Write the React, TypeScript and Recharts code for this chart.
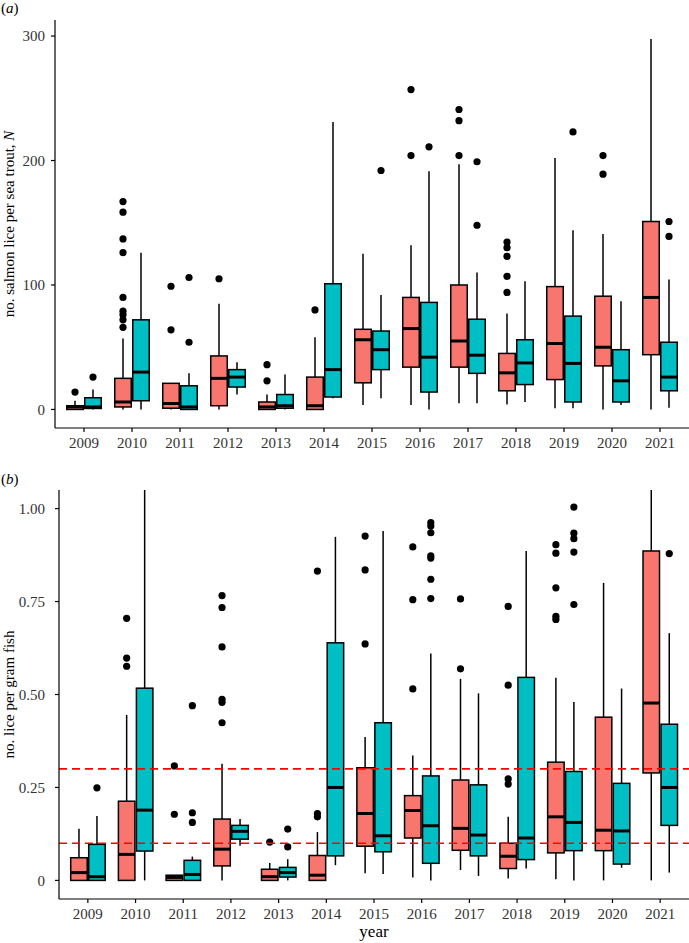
import React from 'react';
import { ComposedChart, Bar, XAxis, YAxis, ReferenceLine, Label } from 'recharts';

const RED = '#F8766D';
const TEAL = '#00BFC4';
const FONT = 'Liberation Serif';

const years = ['2009', '2010', '2011', '2012', '2013', '2014', '2015', '2016', '2017', '2018', '2019', '2020', '2021'];

// box stats per year: [min, q1, median, q3, max]
const troutRed = [
  [0, 0, 2, 3, 7], [0, 2, 6, 25, 57], [0, 1, 4.8, 21, 21], [0, 3, 25, 43, 85], [0, 0, 2, 6, 12],
  [0, 0, 3, 26, 58], [3.5, 21.4, 56, 64.4, 125], [3.5, 34, 65, 90, 132], [5, 34, 55, 100, 197],
  [4, 15, 29.4, 45, 77], [1, 24, 53, 98.7, 202], [0, 35, 50, 91, 141], [0, 44, 90, 151, 297.6],
];
const troutTeal = [
  [0, 0.8, 2, 9.4, 16], [0, 7, 30, 72, 126], [0, 0, 2, 19, 29], [12, 18, 26, 32, 38], [0, 1, 3, 12, 28],
  [9, 10, 32, 101, 231], [9, 32, 48, 63, 92], [0, 14, 42, 86, 191.4], [5, 29, 43.6, 72.5, 110],
  [6, 20, 37.4, 56, 103], [1, 6, 37, 75, 144], [3.5, 6, 23, 48, 87], [1.3, 15, 26, 54, 104.5],
];
const troutRedOut = [
  [14], [66, 72, 76, 79, 90, 126, 137, 158.5, 167], [64, 99], [105], [23, 36], [80],
  [], [204, 257], [204, 232, 241], [94, 107, 123, 130, 134.5], [], [189, 204], [],
];
const troutTealOut = [
  [26], [], [54, 106], [], [], [], [192], [211], [148, 199], [], [223], [], [139, 151],
];

const gramRed = [
  [0, 0, 0.021, 0.061, 0.139], [0, 0, 0.07, 0.213, 0.445], [0, 0, 0.008, 0.014, 0.014],
  [0, 0.039, 0.084, 0.165, 0.314], [0, 0, 0.01, 0.03, 0.047], [0, 0, 0.014, 0.067, 0.13],
  [0.019, 0.092, 0.18, 0.303, 0.386], [0.008, 0.114, 0.188, 0.228, 0.336], [0.028, 0.081, 0.14, 0.27, 0.542],
  [0.005, 0.032, 0.065, 0.1, 0.171], [0.003, 0.074, 0.171, 0.318, 0.545], [0, 0.08, 0.135, 0.439, 0.8],
  [0, 0.289, 0.477, 0.886, 1.25],
];
const gramTeal = [
  [0, 0, 0.01, 0.097, 0.173], [0, 0.079, 0.189, 0.517, 1.2], [0, 0, 0.016, 0.054, 0.064],
  [0.093, 0.111, 0.132, 0.148, 0.165], [0, 0.009, 0.021, 0.035, 0.057], [0.041, 0.066, 0.25, 0.639, 0.924],
  [0.017, 0.077, 0.12, 0.424, 0.94], [0, 0.046, 0.147, 0.281, 0.61], [0.012, 0.066, 0.122, 0.257, 0.503],
  [0.032, 0.056, 0.114, 0.546, 0.886], [0, 0.08, 0.156, 0.293, 0.48], [0.034, 0.044, 0.133, 0.261, 0.516],
  [0.021, 0.148, 0.25, 0.42, 0.665],
];
const gramRedOut = [
  [], [0.576, 0.598, 0.705], [0.178, 0.308], [0.424, 0.479, 0.487, 0.628, 0.734, 0.766], [0.103],
  [0.171, 0.18, 0.832], [0.636, 0.835, 0.926], [0.515, 0.755, 0.897], [0.569, 0.757],
  [0.259, 0.273, 0.525, 0.737], [0.702, 0.71, 0.787, 0.88, 0.903], [], [],
];
const gramTealOut = [
  [0.249], [], [0.156, 0.182, 0.47], [], [0.09, 0.138], [], [],
  [0.758, 0.81, 0.867, 0.873, 0.935, 0.953, 0.962], [], [], [0.742, 0.883, 0.919, 0.934, 1.004], [], [0.879],
];

const troutTicks = [0, 100, 200, 300];
const gramTicks = [0, 0.25, 0.5, 0.75, 1];
const thresholds = [0.1, 0.3];

function buildRows(red: number[][], teal: number[][], redOut: number[][], tealOut: number[][]) {
  return years.map((year, i) => {
    const rAll = [...red[i], ...redOut[i]];
    const tAll = [...teal[i], ...tealOut[i]];
    return {
      year,
      red: { stats: red[i], out: redOut[i] },
      teal: { stats: teal[i], out: tealOut[i] },
      redRange: [Math.min(...rAll), Math.max(...rAll)],
      tealRange: [Math.min(...tAll), Math.max(...tAll)],
    };
  });
}

const troutRows = buildRows(troutRed, troutTeal, troutRedOut, troutTealOut);
const gramRows = buildRows(gramRed, gramTeal, gramRedOut, gramTealOut);

function BoxShape(props: any) {
  const { x, y, width, height, payload, group, color, background } = props;
  const d = payload[group];
  const [lo, hi] = payload[group + 'Range'];
  const toPx = (v: number) => y + ((hi - v) / (hi - lo)) * height;
  const [min, q1, med, q3, max] = d.stats;
  const cx = x + width / 2;
  let top = toPx(max);
  if (background && typeof background.y === 'number' && top < background.y) top = background.y;
  return (
    <g>
      <line x1={cx} x2={cx} y1={top} y2={toPx(q3)} stroke="#000" strokeWidth={1.5} />
      <line x1={cx} x2={cx} y1={toPx(q1)} y2={toPx(min)} stroke="#000" strokeWidth={1.5} />
      <rect
        x={x + 0.75}
        y={toPx(q3)}
        width={width - 1.5}
        height={Math.max(toPx(q1) - toPx(q3), 0.5)}
        fill={color}
        stroke="#000"
        strokeWidth={1.5}
      />
      <line x1={x + 0.75} x2={x + width - 0.75} y1={toPx(med)} y2={toPx(med)} stroke="#000" strokeWidth={3} />
      {d.out.map((v: number, k: number) => (
        <circle key={k} cx={cx} cy={toPx(v)} r={3.6} fill="#000" />
      ))}
    </g>
  );
}

function yTitle(children: React.ReactNode) {
  return (props: any) => {
    const vb = props.viewBox || { y: 20, height: 408 };
    const cy = vb.y + vb.height / 2;
    return (
      <text
        x={9}
        y={cy}
        transform={`rotate(-90, 9, ${cy})`}
        textAnchor="middle"
        dominantBaseline="central"
        fontFamily={FONT}
        fontSize={15}
        fill="#000"
      >
        {children}
      </text>
    );
  };
}

const tickStyle = { fontSize: 15, fill: '#333', fontFamily: FONT };

function Panel(props: {
  rows: any[];
  domain: [number, number];
  ticks: number[];
  yWidth: number;
  yMargin: number;
  height: number;
  xHeight: number;
  title: React.ReactNode;
  fmt?: (v: number) => string;
  lines?: number[];
  xTitle?: string;
}) {
  const { rows, domain, ticks, yWidth, yMargin, height, xHeight, title, fmt, lines, xTitle } = props;
  return (
    <ComposedChart
      width={689}
      height={height}
      data={rows}
      margin={{ top: 20, right: 0, bottom: 0, left: 0 }}
      barCategoryGap="12.5%"
      barGap={0}
    >
      <XAxis
        dataKey="year"
        interval={0}
        height={xHeight}
        padding={{ left: 5, right: 5 }}
        tick={tickStyle}
        tickSize={4}
        tickMargin={5}
        axisLine={{ stroke: '#000', strokeWidth: 1.2 }}
        tickLine={{ stroke: '#000', strokeWidth: 1.2 }}
      >
        {xTitle ? (
          <Label
            content={(p: any) => {
              const vb = p.viewBox || { x: 59, width: 630 };
              return (
                <text
                  x={vb.x + vb.width / 2}
                  y={height - 6}
                  textAnchor="middle"
                  fontFamily={FONT}
                  fontSize={17}
                  fill="#000"
                >
                  {xTitle}
                </text>
              );
            }}
          />
        ) : null}
      </XAxis>
      <YAxis
        type="number"
        domain={domain}
        ticks={ticks}
        allowDataOverflow
        width={yWidth}
        tick={tickStyle}
        tickFormatter={fmt}
        tickSize={4}
        tickMargin={yMargin}
        axisLine={{ stroke: '#000', strokeWidth: 1.2 }}
        tickLine={{ stroke: '#000', strokeWidth: 1.2 }}
      >
        <Label content={yTitle(title)} />
      </YAxis>
      <Bar
        dataKey="redRange"
        isAnimationActive={false}
        shape={(p: any) => <BoxShape {...p} group="red" color={RED} />}
      />
      <Bar
        dataKey="tealRange"
        isAnimationActive={false}
        shape={(p: any) => <BoxShape {...p} group="teal" color={TEAL} />}
      />
      {(lines || []).map((v) => (
        <ReferenceLine key={v} y={v} stroke="#FF0000" strokeWidth={1.6} strokeDasharray="8 5" />
      ))}
    </ComposedChart>
  );
}

const tagStyle: React.CSSProperties = {
  position: 'absolute',
  left: 1,
  fontFamily: FONT,
  fontSize: 15,
  lineHeight: '15px',
  color: '#000',
};

export default function App() {
  return (
    <div style={{ position: 'absolute', left: 0, top: 0, width: 689, height: 943, background: '#fff' }}>
      <div style={{ position: 'absolute', left: 0, top: 0 }}>
        <Panel
          rows={troutRows}
          domain={[-14.9, 312.9]}
          ticks={troutTicks}
          yWidth={55}
          yMargin={6}
          height={470}
          xHeight={42}
          title={
            <>
              no. salmon lice per sea trout, <tspan fontStyle="italic">N</tspan>
            </>
          }
        />
      </div>
      <div style={{ position: 'absolute', left: 0, top: 470 }}>
        <Panel
          rows={gramRows}
          domain={[-0.05, 1.05]}
          ticks={gramTicks}
          yWidth={59}
          yMargin={10}
          height={473}
          xHeight={44}
          title="no. lice per gram fish"
          fmt={(v: number) => (v === 0 ? '0' : v.toFixed(2))}
          lines={thresholds}
          xTitle="year"
        />
      </div>
      <div style={{ ...tagStyle, top: 1 }}>
        (<i>a</i>)
      </div>
      <div style={{ ...tagStyle, top: 472 }}>
        (<i>b</i>)
      </div>
    </div>
  );
}
